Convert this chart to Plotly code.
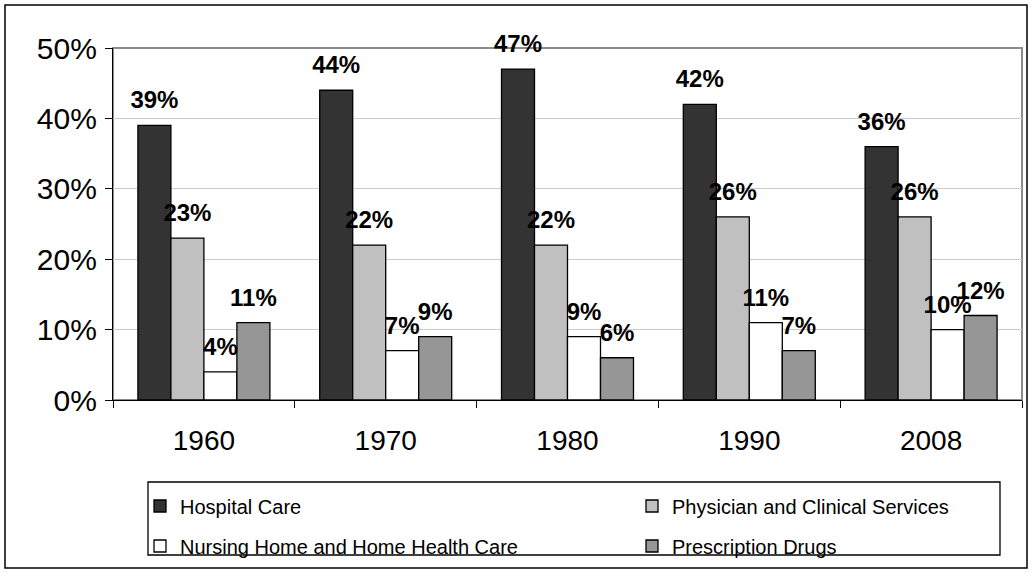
import plotly.graph_objects as go

years = ["1960", "1970", "1980", "1990", "2008"]
series_names = ["Hospital Care", "Physician and Clinical Services",
                "Nursing Home and Home Health Care", "Prescription Drugs"]
hospital = [0.39, 0.44, 0.47, 0.42, 0.36]
physician = [0.23, 0.22, 0.22, 0.26, 0.26]
nursing = [0.04, 0.07, 0.09, 0.11, 0.10]
prescription = [0.11, 0.09, 0.06, 0.07, 0.12]
y_ticks = [0, 0.1, 0.2, 0.3, 0.4, 0.5]
y_tick_text = ["0%", "10%", "20%", "30%", "40%", "50%"]

values = [hospital, physician, nursing, prescription]
colors = ["#333333", "#C0C0C0", "#FFFFFF", "#969696"]
legend_ids = ["legend", "legend2", "legend3", "legend4"]
FONT = "Liberation Sans, Arial, sans-serif"

fig = go.Figure()
for i, (name, vals, col, lg) in enumerate(zip(series_names, values, colors, legend_ids)):
    fig.add_trace(go.Bar(
        x=years, y=vals, name=name,
        marker=dict(color=col, line=dict(color="#000000", width=1.3)),
        offsetgroup=str(i), legend=lg, hoverinfo="skip"))
for i, vals in enumerate(values):
    fig.add_trace(go.Scatter(
        x=years, y=vals, mode="markers+text", offsetgroup=str(i),
        text=[f"{round(v*100)}%" for v in vals], textposition="top center",
        textfont=dict(family=FONT, size=24, color="#000000", weight="bold"),
        marker=dict(size=16, opacity=0), showlegend=False, cliponaxis=False,
        hoverinfo="skip"))

W, H = 1032, 573
L, R, T, B = 113, 10, 48, 173
pw, ph = W - L - R, H - T - B


def px(x):
    return (x - L) / pw


def py(y):
    return (H - B - y) / ph


def legend_box(xpix, ypix):
    return dict(orientation="h", xref="container", yref="container",
                x=xpix / W, y=1 - ypix / H, xanchor="left", yanchor="middle",
                bgcolor="rgba(0,0,0,0)", borderwidth=0,
                font=dict(size=20, family=FONT, color="#000000"))


fig.update_layout(
    width=W, height=H, margin=dict(l=L, r=R, t=T, b=B),
    paper_bgcolor="white", plot_bgcolor="white",
    barmode="group", bargap=0.274, bargroupgap=0,
    scattermode="group", scattergap=0.274,
    font=dict(family=FONT, color="#000000"),
    xaxis=dict(showline=True, linecolor="#000000", linewidth=1.3, ticks="outside",
               tickson="boundaries", ticklen=7, tickcolor="#000000", tickwidth=1.3,
               tickfont=dict(size=28, family=FONT), ticklabelstandoff=15,
               showgrid=False),
    yaxis=dict(range=[0, 0.5], tickvals=y_ticks, ticktext=y_tick_text, showline=True,
               linecolor="#000000", linewidth=1.3, ticks="outside", ticklen=7,
               tickcolor="#000000", tickwidth=1.3, tickfont=dict(size=30, family=FONT),
               ticklabelstandoff=2, showgrid=True, gridcolor="#CCCCCC", gridwidth=1,
               zeroline=False),
    legend=legend_box(140, 506),
    legend2=legend_box(632, 506),
    legend3=legend_box(140, 546),
    legend4=legend_box(632, 546),
    shapes=[
        dict(type="rect", xref="paper", yref="paper", x0=0, x1=1, y0=0, y1=1,
             line=dict(color="#8C8C8C", width=2), layer="below"),
        dict(type="rect", xref="paper", yref="paper", x0=px(148), x1=px(1000),
             y0=py(555), y1=py(482), line=dict(color="#000000", width=1.3)),
        dict(type="rect", xref="paper", yref="paper", x0=px(5), x1=px(1027),
             y0=py(568), y1=py(5), line=dict(color="#000000", width=1.5)),
    ],
)

fig.write_html("out.html", config={"displayModeBar": False},
               post_script="document.body.style.margin='0px';")
